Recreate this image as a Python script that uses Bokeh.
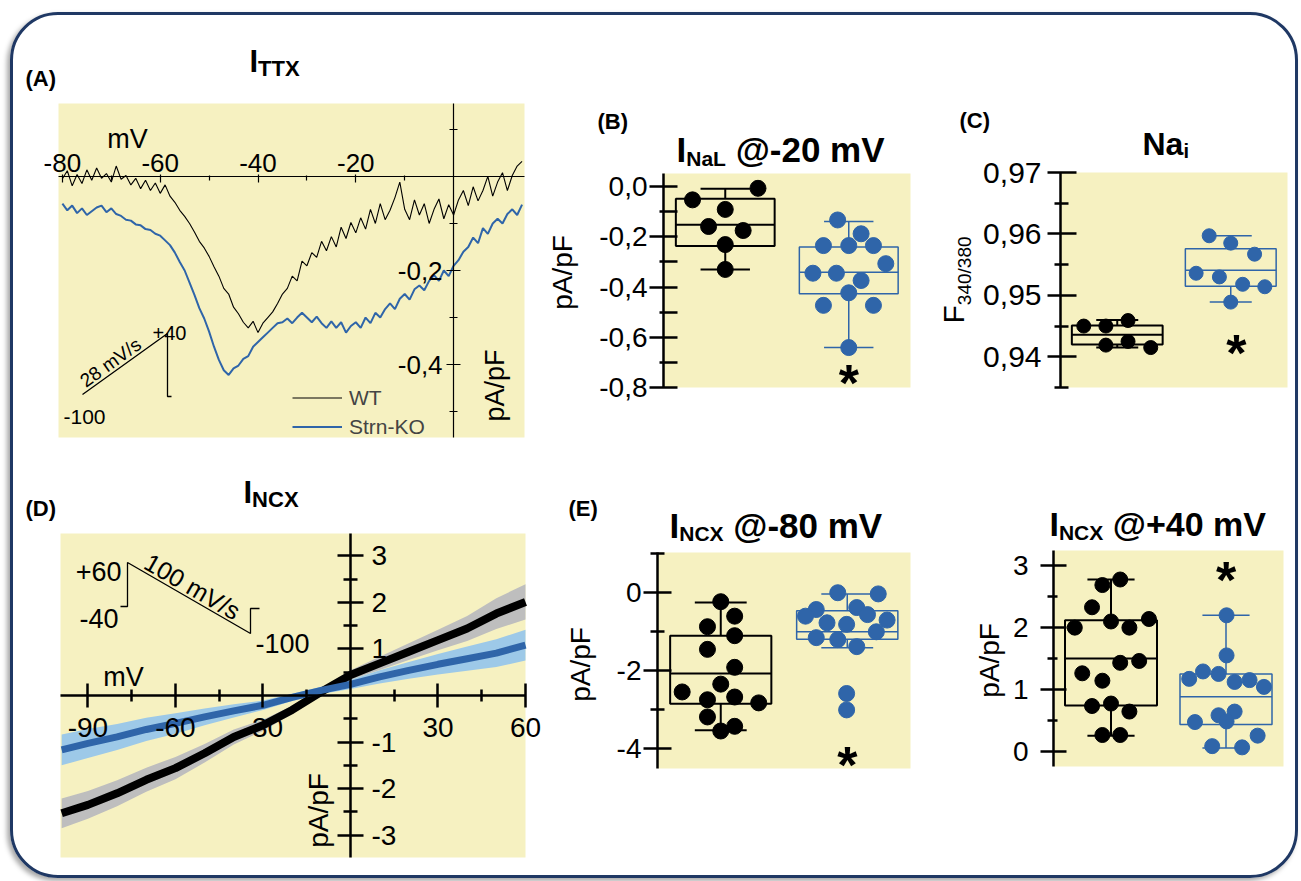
import math
from bokeh.plotting import figure
from bokeh.models import (Range1d, LinearAxis, FixedTicker, CustomJSTickFormatter,
                          Label, Legend, LegendItem, BoxAnnotation, Spacer)
from bokeh.layouts import row, column
from bokeh.embed import file_html
from bokeh.resources import INLINE

# ---------------- data ----------------
# (A) I_TTX during a 28 mV/s ramp, pA/pF vs mV
A_mV = list(range(-80, 15))
A_WT = [-0.005, 0.012, -0.02, 0.004, -0.015, 0.014, -0.008, 0.018, -0.004, 0.006,
        -0.012, 0.022, -0.006, 0.002, -0.018, -0.004, -0.026, -0.008, -0.03, -0.014,
        -0.036, -0.018, -0.042, -0.055, -0.072, -0.085, -0.1, -0.118, -0.138, -0.152,
        -0.17, -0.192, -0.212, -0.238, -0.25, -0.278, -0.292, -0.31, -0.322, -0.308,
        -0.332, -0.312, -0.3, -0.288, -0.27, -0.25, -0.238, -0.212, -0.222, -0.18,
        -0.19, -0.162, -0.172, -0.138, -0.158, -0.128, -0.15, -0.108, -0.132, -0.098,
        -0.12, -0.088, -0.112, -0.07, -0.1, -0.058, -0.092, -0.072, -0.045, -0.012,
        -0.07, -0.092, -0.05, -0.082, -0.058, -0.1, -0.07, -0.048, -0.09, -0.06,
        -0.082, -0.05, -0.03, -0.062, -0.022, -0.052, -0.03, 0.0, -0.042, -0.012,
        0.008, -0.03, 0.002, 0.022, 0.032]
A_KO = [-0.058, -0.072, -0.062, -0.078, -0.068, -0.082, -0.074, -0.066, -0.062, -0.076,
        -0.068, -0.08, -0.084, -0.092, -0.094, -0.102, -0.104, -0.112, -0.114, -0.122,
        -0.126, -0.136, -0.146, -0.162, -0.182, -0.2, -0.226, -0.252, -0.28, -0.302,
        -0.33, -0.362, -0.39, -0.412, -0.422, -0.408, -0.402, -0.388, -0.382, -0.362,
        -0.352, -0.342, -0.332, -0.322, -0.312, -0.31, -0.302, -0.312, -0.3, -0.29,
        -0.3, -0.31, -0.298, -0.312, -0.322, -0.308, -0.322, -0.31, -0.332, -0.318,
        -0.31, -0.322, -0.3, -0.312, -0.29, -0.3, -0.282, -0.27, -0.282, -0.26,
        -0.25, -0.262, -0.24, -0.232, -0.242, -0.222, -0.21, -0.222, -0.2, -0.212,
        -0.19, -0.178, -0.16, -0.15, -0.13, -0.142, -0.11, -0.122, -0.1, -0.09,
        -0.1, -0.08, -0.07, -0.082, -0.06]
A_xticks = [-80, -60, -40, -20]
A_xminor = [-70, -50, -30, -10]
A_yticks = [-0.2, -0.4]
A_yminor = [0.1, -0.1, -0.3, -0.5]

# (B) I_NaL @ -20 mV (pA/pF); box = q1, median, q3, whisker low, whisker high
B_WT_x = [0.47, 1.53, 1.0, 0.73, 1.29, 1.0, 1.0]
B_WT_y = [-0.053, -0.007, -0.091, -0.159, -0.175, -0.231, -0.33]
B_KO_x = [2.82, 3.2, 2.59, 3.0, 3.4, 3.6, 2.42, 2.8, 3.2, 3.0, 2.59, 3.4, 3.0]
B_KO_y = [-0.133, -0.188, -0.235, -0.235, -0.235, -0.307, -0.345, -0.345, -0.374,
          -0.423, -0.473, -0.473, -0.641]
B_WT_box = [-0.237, -0.152, -0.049, -0.33, -0.009]
B_KO_box = [-0.427, -0.341, -0.241, -0.641, -0.139]
B_ticks = [0.0, -0.2, -0.4, -0.6, -0.8]
B_minor = [-0.1, -0.3, -0.5, -0.7]

# (C) Na_i, F340/380
C_WT_x = [0.41, 0.8, 1.19, 0.8, 1.19, 1.59]
C_WT_y = [0.945, 0.945, 0.9459, 0.9419, 0.9425, 0.9415]
C_KO_x = [2.62, 3.0, 3.42, 2.39, 2.8, 3.21, 3.6, 3.0]
C_KO_y = [0.9597, 0.9585, 0.9567, 0.9536, 0.953, 0.9518, 0.9514, 0.9489]
C_WT_box = [0.942, 0.9436, 0.9451, 0.9415, 0.946]
C_KO_box = [0.9515, 0.9541, 0.9576, 0.9489, 0.9597]
C_ticks = [0.97, 0.96, 0.95, 0.94]
C_minor = [0.965, 0.955, 0.945, 0.935]

# (D) I_NCX I-V (pA/pF vs mV), mean and SEM
D_mV = [-99, -90, -80, -70, -60, -50, -40, -30, -20, -10, 0, 10, 20, 30, 40, 50, 60]
D_WT = [-2.53, -2.35, -2.1, -1.81, -1.56, -1.24, -0.89, -0.64, -0.31, 0.08, 0.44,
        0.69, 0.94, 1.19, 1.44, 1.76, 2.01]
D_WT_sem = [0.32, 0.3, 0.28, 0.26, 0.24, 0.2, 0.16, 0.12, 0.09, 0.08, 0.1, 0.14,
            0.18, 0.22, 0.27, 0.33, 0.38]
D_KO = [-1.17, -1.03, -0.89, -0.73, -0.6, -0.46, -0.33, -0.21, -0.04, 0.11, 0.24,
        0.4, 0.54, 0.67, 0.79, 0.91, 1.08]
D_KO_sem = [0.33, 0.31, 0.28, 0.25, 0.22, 0.18, 0.14, 0.1, 0.08, 0.08, 0.1, 0.14,
            0.18, 0.22, 0.26, 0.3, 0.33]
D_xticks = [-90, -60, -30, 30, 60]
D_xminor = [-75, -45, -15, 15, 45]
D_yticks = [-3, -2, -1, 1, 2, 3]
D_yminor = [-2.5, -1.5, -0.5, 0.5, 1.5, 2.5]

# (E) I_NCX @ -80 mV
E_WT_x = [1.0, 1.22, 0.79, 1.22, 0.79, 1.22, 0.39, 1.0, 0.79, 1.22, 1.6, 0.79, 1.22, 1.0]
E_WT_y = [-0.23, -0.6, -0.87, -1.10, -1.45, -1.91, -2.54, -2.34, -2.74, -2.67, -2.82,
          -3.18, -3.42, -3.54]
E_KO_x = [2.85, 3.49, 2.51, 2.34, 3.15, 3.32, 3.63, 2.68, 2.99, 3.46, 2.51, 2.85,
          3.15, 2.99, 2.99]
E_KO_y = [0.0, -0.03, -0.43, -0.6, -0.38, -0.56, -0.7, -0.77, -0.81, -1.0, -1.15,
          -1.2, -1.38, -2.58, -3.0]
E_WT_box = [-2.84, -2.07, -1.10, -3.52, -0.25]
E_KO_box = [-1.19, -1.0, -0.46, -1.41, -0.03]
E_ticks = [0, -2, -4]
E_minor = [1, -1, -3]

# (F) I_NCX @ +40 mV
F_WT_x = [0.85, 1.16, 0.67, 0.37, 1.0, 1.32, 1.66, 1.16, 1.49, 0.5, 0.85, 0.67, 1.0,
          1.32, 0.85, 1.16]
F_WT_y = [2.69, 2.78, 2.33, 2.0, 2.1, 2.0, 2.14, 1.43, 1.46, 1.26, 1.14, 0.73, 0.77,
          0.64, 0.26, 0.26]
F_KO_x = [3.01, 3.01, 2.36, 2.6, 2.87, 3.15, 3.41, 3.66, 2.46, 2.87, 3.15, 3.01, 3.55,
          2.76, 3.28]
F_KO_y = [2.2, 1.55, 1.17, 1.29, 1.25, 1.12, 1.15, 1.04, 0.47, 0.58, 0.64, 0.48, 0.25,
          0.08, 0.06]
F_WT_box = [0.74, 1.5, 2.12, 0.25, 2.78]
F_KO_box = [0.43, 0.88, 1.25, 0.05, 2.2]
F_ticks = [0, 1, 2, 3]
F_minor = [0.5, 1.5, 2.5]

GROUP_X = [1.0, 3.0]   # WT, Strn-KO

# ---------------- styles / layout ----------------
FONT = "Liberation Sans"
YELLOW = "#F6F1C1"
BLUE = "#2F65A9"
LIGHTBLUE = "#9DC9E8"
GRAY = "#BEBEBE"
NAVY = "#1F3864"

# fig = page rectangle of the figure, plot = page rectangle of the yellow plot area
GEOM = {
    "A": dict(fig=(10, 12, 545, 460), plot=(58, 103, 524, 437),
              xr=(-80.8, 14.5), yr=(-0.555, 0.155)),
    "B": dict(fig=(545, 12, 930, 460), plot=(663, 173, 910, 387),
              xr=(0, 4), yr=(-0.8, 0.052)),
    "C": dict(fig=(930, 12, 1298, 460), plot=(1060, 172, 1287, 387),
              xr=(0, 4), yr=(0.935, 0.97)),
    "D": dict(fig=(10, 460, 545, 878), plot=(60, 533, 525, 857),
              xr=(-99.4, 60.0), yr=(-3.48, 3.48)),
    "E": dict(fig=(545, 460, 930, 878), plot=(657, 552, 910, 768),
              xr=(0, 4), yr=(-4.5, 1.03)),
    "F": dict(fig=(930, 460, 1298, 878), plot=(1053, 550, 1283, 766),
              xr=(0, 4), yr=(-0.25, 3.25)),
}

ARIAL_B = {' ': 278, '(': 333, ')': 333, '@': 975, '-': 333, '+': 584, 'I': 278,
           'N': 722, 'C': 722, 'X': 667, 'T': 611, 'L': 611, 'a': 556, 'i': 278,
           'm': 889, 'V': 667}


def tw(text, size):
    return sum(ARIAL_B.get(c, 556) for c in text) * size / 1000.0


def to_data(g, px, py):
    L, T, R, B = g["plot"]
    x0, x1 = g["xr"]
    y0, y1 = g["yr"]
    return (x0 + (px - L) / (R - L) * (x1 - x0), y1 - (py - T) / (B - T) * (y1 - y0))


def to_page_x(g, x):
    L, T, R, B = g["plot"]
    x0, x1 = g["xr"]
    return L + (x - x0) / (x1 - x0) * (R - L)


def make_fig(key):
    g = GEOM[key]
    fx0, fy0, fx1, fy1 = g["fig"]
    xa, ytop = to_data(g, fx0, fy0)
    xb, ybot = to_data(g, fx1, fy1)
    p = figure(width=fx1 - fx0, height=fy1 - fy0,
               x_range=Range1d(xa, xb), y_range=Range1d(ybot, ytop),
               min_border=0, min_border_left=0, min_border_right=0,
               min_border_top=0, min_border_bottom=0,
               toolbar_location=None, output_backend="svg",
               x_axis_location=None, y_axis_location=None,
               background_fill_color=None, border_fill_color=None,
               outline_line_color=None)
    p.grid.visible = False
    x0, x1 = g["xr"]
    y0, y1 = g["yr"]
    p.add_layout(BoxAnnotation(left=x0, right=x1, bottom=y0, top=y1, fill_color=YELLOW,
                               fill_alpha=1.0, line_color=None, level="underlay"))
    return p, g


def label(p, g, px, py, text, size, bold=False, align="left", baseline="alphabetic",
          angle=0.0):
    x, y = to_data(g, px, py)
    p.add_layout(Label(x=x, y=y, text=text, text_font=FONT, text_font_size=f"{size}px",
                       text_font_style="bold" if bold else "normal", text_align=align,
                       text_baseline=baseline, angle=angle, text_color="black"))


def rich_title(p, g, px, base, parts):
    for text, size, drop in parts:
        lead = len(text) - len(text.lstrip(" "))
        px += tw(" " * lead, size)
        body = text.lstrip(" ")
        label(p, g, px, base + drop, body, size, bold=True)
        px += tw(body, size)


def axis(p, g, side, ticks, minor, code, size, lw, mj_in, mj_out, mn_in, mn_out,
         fixed, standoff=5):
    dim_bounds = g["xr"] if side in ("above", "below") else g["yr"]
    eps = 1e-9 * (abs(dim_bounds[1]) + 1)
    ax = LinearAxis(ticker=FixedTicker(ticks=ticks, minor_ticks=minor),
                    formatter=CustomJSTickFormatter(code=code), fixed_location=fixed,
                    bounds=(dim_bounds[0] - eps, dim_bounds[1] + eps),
                    axis_line_width=lw, axis_line_color="black",
                    major_tick_line_width=lw, minor_tick_line_width=lw,
                    major_tick_line_color="black", minor_tick_line_color="black",
                    major_tick_in=mj_in, major_tick_out=mj_out,
                    minor_tick_in=mn_in, minor_tick_out=mn_out,
                    major_label_text_font=FONT, major_label_text_font_size=f"{size}px",
                    major_label_text_color="black", major_label_standoff=standoff)
    p.add_layout(ax, side)
    return ax


def boxplot(p, c, stats, color, lw, half=0.8, cap=0.4):
    q1, med, q3, lo, hi = stats
    p.quad(left=[c - half], right=[c + half], bottom=[q1], top=[q3], fill_color=None,
           line_color=color, line_width=lw)
    p.segment(x0=[c - half, c, c, c - cap, c - cap], y0=[med, q3, q1, hi, lo],
              x1=[c + half, c, c, c + cap, c + cap], y1=[med, hi, lo, hi, lo],
              line_color=color, line_width=lw)


def star(p, g, xdata, py_center, size=52):
    px = to_page_x(g, xdata)
    label(p, g, px, py_center + 0.15 * size, "*", size, bold=True, align="center")


def panel_letter(p, g, px, base, letter):
    label(p, g, px, base, letter, 22, bold=True)


def vlabel(p, g, px, py, text, size):
    label(p, g, px, py, text, size, align="center", baseline="middle", angle=math.pi / 2)


# ---------------- (A) ----------------
pA, gA = make_fig("A")
r_wt = pA.line(A_mV, A_WT, line_color="black", line_width=1.1)
r_ko = pA.line(A_mV, A_KO, line_color=BLUE, line_width=2)
ramp_px = [(82, 394), (167, 333), (167, 396), (171, 396)]
pts = [to_data(gA, *q) for q in ramp_px]
pA.line([q[0] for q in pts], [q[1] for q in pts], line_color="black", line_width=1.3)
axis(pA, gA, "above", A_xticks, A_xminor, "return tick.toFixed(0)", 26, 1.2, 6, 2, 4, 1,
     fixed=0, standoff=2)
axis(pA, gA, "left", A_yticks, A_yminor, "return tick.toFixed(1).replace('.', ',')", 26,
     1.2, 7, 7, 4, 4, fixed=0, standoff=4)
fx0, fy0, fx1, fy1 = gA["fig"]
leg = Legend(items=[LegendItem(label="WT", renderers=[r_wt]),
                    LegendItem(label="Strn-KO", renderers=[r_ko])],
             location=(292 - fx0, fy1 - 441), background_fill_alpha=0,
             border_line_color=None, padding=0, margin=0, spacing=0, glyph_width=50,
             glyph_height=29, label_height=29, label_standoff=7, label_text_font=FONT,
             label_text_font_size="21px")
pA.add_layout(leg)
panel_letter(pA, gA, 25, 78, "(A)")
rich_title(pA, gA, 249, 61, [("I", 31, 0), ("TTX", 22, 7)])
label(pA, gA, 127, 138, "mV", 27, align="center", baseline="middle")
vlabel(pA, gA, 494, 385, "pA/pF", 27)
label(pA, gA, 152, 332, "+40", 20)
label(pA, gA, 63, 416, "-100", 21)
label(pA, gA, 110, 362, "28 mV/s", 19, align="center", baseline="middle", angle=0.623)

# ---------------- (B) ----------------
pB, gB = make_fig("B")
boxplot(pB, GROUP_X[0], B_WT_box, "black", 2)
boxplot(pB, GROUP_X[1], B_KO_box, BLUE, 1.5)
pB.scatter(B_WT_x, B_WT_y, size=16, color="black")
pB.scatter(B_KO_x, B_KO_y, size=16, color=BLUE)
axis(pB, gB, "left", B_ticks, B_minor, "return tick.toFixed(1).replace('.', ',')", 28,
     2.5, 14, 14, 14, 4, fixed=0, standoff=2)
panel_letter(pB, gB, 597, 121, "(B)")
rich_title(pB, gB, 676, 149, [("I", 35, 0), ("NaL", 21, 9), (" @-20 mV", 35, 0)])
vlabel(pB, gB, 562, 272, "pA/pF", 28)
star(pB, gB, GROUP_X[1], 375)

# ---------------- (C) ----------------
pC, gC = make_fig("C")
boxplot(pC, GROUP_X[0], C_WT_box, "black", 2, cap=0.37)
boxplot(pC, GROUP_X[1], C_KO_box, BLUE, 1.5, cap=0.37)
pC.scatter(C_WT_x, C_WT_y, size=14, color="black")
pC.scatter(C_KO_x, C_KO_y, size=14, color=BLUE)
axis(pC, gC, "left", C_ticks, C_minor, "return tick.toFixed(2).replace('.', ',')", 30,
     2.5, 16, 13, 8, 6, fixed=0, standoff=6)
panel_letter(pC, gC, 959, 120, "(C)")
rich_title(pC, gC, 1142, 143, [("Na", 32, 0), ("i", 20, 7)])
label(pC, gC, 953, 323, "F", 30, angle=math.pi / 2)
label(pC, gC, 964, 323 - 0.611 * 30, "340/380", 19, angle=math.pi / 2)
star(pC, gC, 3.1, 345)

# ---------------- (D) ----------------
pD, gD = make_fig("D")
pD.varea(x=D_mV, y1=[m - s for m, s in zip(D_WT, D_WT_sem)],
         y2=[m + s for m, s in zip(D_WT, D_WT_sem)], fill_color=GRAY)
pD.varea(x=D_mV, y1=[m - s for m, s in zip(D_KO, D_KO_sem)],
         y2=[m + s for m, s in zip(D_KO, D_KO_sem)], fill_color=LIGHTBLUE)
pD.line(D_mV, D_WT, line_color="black", line_width=8)
pD.line(D_mV, D_KO, line_color=BLUE, line_width=7)
step_px = [(120, 606), (127, 606), (127, 562), (250, 633), (250, 608), (259, 608)]
pts = [to_data(gD, *q) for q in step_px]
pD.line([q[0] for q in pts], [q[1] for q in pts], line_color="black", line_width=1.3)
axis(pD, gD, "below", D_xticks, D_xminor, "return tick.toFixed(0)", 28, 2.5, 12, 12, 6, 6,
     fixed=0, standoff=10)
axis(pD, gD, "right", D_yticks, D_yminor, "return tick.toFixed(0)", 28, 2.5, 13, 13, 7, 7,
     fixed=0, standoff=8)
panel_letter(pD, gD, 25, 508, "(D)")
rich_title(pD, gD, 243, 492, [("I", 31, 0), ("NCX", 22, 7)])
label(pD, gD, 123, 676, "mV", 27, align="center", baseline="middle")
vlabel(pD, gD, 318, 810, "pA/pF", 28)
label(pD, gD, 121, 571, "+60", 27, align="right")
label(pD, gD, 118, 618, "-40", 27, align="right")
label(pD, gD, 255, 643, "-100", 27)
label(pD, gD, 192, 586, "100 mV/s", 25, align="center", baseline="middle", angle=-0.524)

# ---------------- (E) ----------------
pE, gE = make_fig("E")
boxplot(pE, GROUP_X[0], E_WT_box, "black", 2, cap=0.41)
boxplot(pE, GROUP_X[1], E_KO_box, BLUE, 1.5, cap=0.41)
pE.scatter(E_WT_x, E_WT_y, size=16, color="black")
pE.scatter(E_KO_x, E_KO_y, size=16, color=BLUE)
axis(pE, gE, "left", E_ticks, E_minor, "return tick.toFixed(0)", 28, 2.5, 14, 14, 7, 7,
     fixed=0, standoff=2)
panel_letter(pE, gE, 568, 508, "(E)")
rich_title(pE, gE, 669, 525, [("I", 35, 0), ("NCX", 21, 8), (" @-80 mV", 35, 0)])
vlabel(pE, gE, 580, 664, "pA/pF", 28)
star(pE, gE, GROUP_X[1], 757)

# ---------------- (F) ----------------
pF, gF = make_fig("F")
boxplot(pF, GROUP_X[0], F_WT_box, "black", 2, cap=0.41)
boxplot(pF, GROUP_X[1], F_KO_box, BLUE, 1.5, cap=0.41)
pF.scatter(F_WT_x, F_WT_y, size=15, color="black")
pF.scatter(F_KO_x, F_KO_y, size=15, color=BLUE)
axis(pF, gF, "left", F_ticks, F_minor, "return tick.toFixed(0)", 28, 2.5, 13, 13, 4, 6,
     fixed=0, standoff=12)
rich_title(pF, gF, 1049, 523, [("I", 34, 0), ("NCX", 21, 9), (" @+40 mV", 34, 0)])
vlabel(pF, gF, 989, 660, "pA/pF", 28)
star(pF, gF, GROUP_X[1], 572)

inner = column(row(pA, pB, pC), row(pD, pE, pF),
               styles={"outline": f"3px solid {NAVY}", "outline-offset": "-3px",
                       "border-radius": "48px",
                       "box-shadow": "-3px 3px 5px rgba(0,0,0,0.35)"})
page = column(Spacer(width=1298, height=12), row(Spacer(width=10, height=866), inner))

open("out.html", "w").write(file_html(page, INLINE))
